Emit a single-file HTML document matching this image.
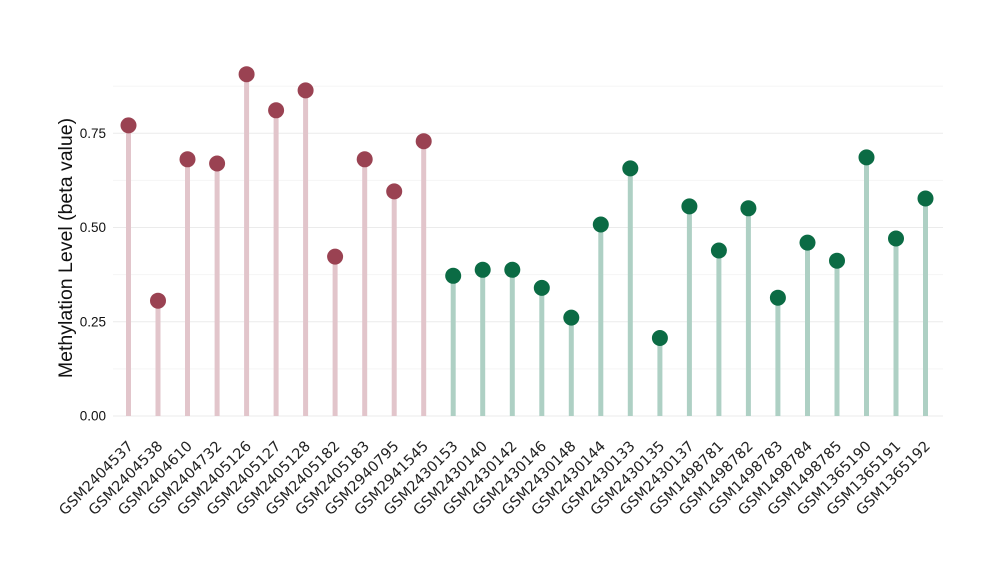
<!DOCTYPE html>
<html><head><meta charset="utf-8"><style>body{margin:0;background:#fff}</style></head><body>
<svg width="1000" height="580" xmlns="http://www.w3.org/2000/svg" font-family="Liberation Sans, sans-serif">
<g stroke="#ebebeb" stroke-width="1">
<line x1="113" x2="943" y1="416" y2="416"/><line x1="113" x2="943" y1="321.8" y2="321.8"/><line x1="113" x2="943" y1="227.5" y2="227.5"/><line x1="113" x2="943" y1="133.3" y2="133.3"/>
</g>
<g stroke="#f5f5f5" stroke-width="1">
<line x1="113" x2="943" y1="368.9" y2="368.9"/><line x1="113" x2="943" y1="274.6" y2="274.6"/><line x1="113" x2="943" y1="180.4" y2="180.4"/><line x1="113" x2="943" y1="86.2" y2="86.2"/>
</g>
<g font-size="13.5" fill="#111" text-anchor="end">
<text x="106" y="420.5">0.00</text><text x="106" y="326.3">0.25</text><text x="106" y="232">0.50</text><text x="106" y="137.8">0.75</text>
</g>
<text transform="translate(72,248) rotate(-90)" text-anchor="middle" font-size="19.5" fill="#111">Methylation Level (beta value)</text>
<g stroke="#e2c5cb" stroke-width="5">
<line x1="128.5" x2="128.5" y1="416" y2="125.4"/>
<line x1="158" x2="158" y1="416" y2="300.7"/>
<line x1="187.5" x2="187.5" y1="416" y2="159.3"/>
<line x1="217.1" x2="217.1" y1="416" y2="163.5"/>
<line x1="246.6" x2="246.6" y1="416" y2="74.2"/>
<line x1="276.1" x2="276.1" y1="416" y2="110.3"/>
<line x1="305.6" x2="305.6" y1="416" y2="90.4"/>
<line x1="335.1" x2="335.1" y1="416" y2="256.6"/>
<line x1="364.7" x2="364.7" y1="416" y2="159.3"/>
<line x1="394.2" x2="394.2" y1="416" y2="191.4"/>
<line x1="423.7" x2="423.7" y1="416" y2="141.2"/>
</g>
<g stroke="#aed0c4" stroke-width="5">
<line x1="453.2" x2="453.2" y1="416" y2="275.8"/>
<line x1="482.7" x2="482.7" y1="416" y2="269.8"/>
<line x1="512.3" x2="512.3" y1="416" y2="269.8"/>
<line x1="541.8" x2="541.8" y1="416" y2="287.9"/>
<line x1="571.3" x2="571.3" y1="416" y2="317.6"/>
<line x1="600.8" x2="600.8" y1="416" y2="224.5"/>
<line x1="630.3" x2="630.3" y1="416" y2="168.4"/>
<line x1="659.9" x2="659.9" y1="416" y2="338"/>
<line x1="689.4" x2="689.4" y1="416" y2="206.4"/>
<line x1="718.9" x2="718.9" y1="416" y2="250.5"/>
<line x1="748.4" x2="748.4" y1="416" y2="208.3"/>
<line x1="777.9" x2="777.9" y1="416" y2="297.7"/>
<line x1="807.5" x2="807.5" y1="416" y2="242.6"/>
<line x1="837" x2="837" y1="416" y2="260.7"/>
<line x1="866.5" x2="866.5" y1="416" y2="157.4"/>
<line x1="896" x2="896" y1="416" y2="238.5"/>
<line x1="925.5" x2="925.5" y1="416" y2="198.5"/>
</g>
<g fill="#9a4252">
<circle cx="128.5" cy="125.4" r="8"/><circle cx="158" cy="300.7" r="8"/><circle cx="187.5" cy="159.3" r="8"/><circle cx="217.1" cy="163.5" r="8"/><circle cx="246.6" cy="74.2" r="8"/><circle cx="276.1" cy="110.3" r="8"/><circle cx="305.6" cy="90.4" r="8"/><circle cx="335.1" cy="256.6" r="8"/><circle cx="364.7" cy="159.3" r="8"/><circle cx="394.2" cy="191.4" r="8"/><circle cx="423.7" cy="141.2" r="8"/>
</g>
<g fill="#0b6b44">
<circle cx="453.2" cy="275.8" r="8"/><circle cx="482.7" cy="269.8" r="8"/><circle cx="512.3" cy="269.8" r="8"/><circle cx="541.8" cy="287.9" r="8"/><circle cx="571.3" cy="317.6" r="8"/><circle cx="600.8" cy="224.5" r="8"/><circle cx="630.3" cy="168.4" r="8"/><circle cx="659.9" cy="338" r="8"/><circle cx="689.4" cy="206.4" r="8"/><circle cx="718.9" cy="250.5" r="8"/><circle cx="748.4" cy="208.3" r="8"/><circle cx="777.9" cy="297.7" r="8"/><circle cx="807.5" cy="242.6" r="8"/><circle cx="837" cy="260.7" r="8"/><circle cx="866.5" cy="157.4" r="8"/><circle cx="896" cy="238.5" r="8"/><circle cx="925.5" cy="198.5" r="8"/>
</g>
<g font-size="14.5" fill="#222" text-anchor="end" font-family="DejaVu Sans, sans-serif">
<text transform="translate(134,447) rotate(-45)">GSM2404537</text>
<text transform="translate(163.5,447) rotate(-45)">GSM2404538</text>
<text transform="translate(193,447) rotate(-45)">GSM2404610</text>
<text transform="translate(222.6,447) rotate(-45)">GSM2404732</text>
<text transform="translate(252.1,447) rotate(-45)">GSM2405126</text>
<text transform="translate(281.6,447) rotate(-45)">GSM2405127</text>
<text transform="translate(311.1,447) rotate(-45)">GSM2405128</text>
<text transform="translate(340.6,447) rotate(-45)">GSM2405182</text>
<text transform="translate(370.2,447) rotate(-45)">GSM2405183</text>
<text transform="translate(399.7,447) rotate(-45)">GSM2940795</text>
<text transform="translate(429.2,447) rotate(-45)">GSM2941545</text>
<text transform="translate(458.7,447) rotate(-45)">GSM2430153</text>
<text transform="translate(488.2,447) rotate(-45)">GSM2430140</text>
<text transform="translate(517.8,447) rotate(-45)">GSM2430142</text>
<text transform="translate(547.3,447) rotate(-45)">GSM2430146</text>
<text transform="translate(576.8,447) rotate(-45)">GSM2430148</text>
<text transform="translate(606.3,447) rotate(-45)">GSM2430144</text>
<text transform="translate(635.8,447) rotate(-45)">GSM2430133</text>
<text transform="translate(665.4,447) rotate(-45)">GSM2430135</text>
<text transform="translate(694.9,447) rotate(-45)">GSM2430137</text>
<text transform="translate(724.4,447) rotate(-45)">GSM1498781</text>
<text transform="translate(753.9,447) rotate(-45)">GSM1498782</text>
<text transform="translate(783.4,447) rotate(-45)">GSM1498783</text>
<text transform="translate(813,447) rotate(-45)">GSM1498784</text>
<text transform="translate(842.5,447) rotate(-45)">GSM1498785</text>
<text transform="translate(872,447) rotate(-45)">GSM1365190</text>
<text transform="translate(901.5,447) rotate(-45)">GSM1365191</text>
<text transform="translate(931,447) rotate(-45)">GSM1365192</text>
</g>
</svg>
</body></html>
